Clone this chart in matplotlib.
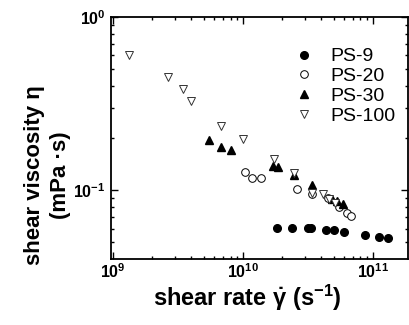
import numpy as np
import matplotlib
matplotlib.use('Agg')
import matplotlib.pyplot as plt
from matplotlib.ticker import LogLocator, NullFormatter, FuncFormatter

plt.rcParams['font.family'] = ['Liberation Sans', 'DejaVu Sans']
plt.rcParams['mathtext.fontset'] = 'custom'
plt.rcParams['mathtext.rm'] = 'Liberation Sans:bold'
plt.rcParams['mathtext.it'] = 'Liberation Sans:bold'
plt.rcParams['mathtext.bf'] = 'Liberation Sans:bold'
plt.rcParams['mathtext.default'] = 'rm'

######## data ########
ps9_rate = [1.83e10, 2.36e10, 3.17e10, 3.36e10, 4.32e10, 4.97e10, 5.98e10, 8.63e10, 1.11e11, 1.31e11]
ps9_visc = [0.0609, 0.0605, 0.0602, 0.0602, 0.0589, 0.0589, 0.0577, 0.0551, 0.0540, 0.0528]

ps20_rate = [1.04e10, 1.18e10, 1.37e10, 2.61e10, 3.40e10, 4.47e10, 5.46e10, 6.26e10, 6.73e10]
ps20_visc = [0.127, 0.118, 0.117, 0.102, 0.0948, 0.0899, 0.0796, 0.0735, 0.0711]

ps30_rate = [5.48e9, 6.75e9, 8.07e9, 1.71e10, 1.86e10, 2.48e10, 3.40e10, 4.86e10, 5.31e10, 5.87e10]
ps30_visc = [0.195, 0.177, 0.170, 0.139, 0.137, 0.122, 0.108, 0.0896, 0.0868, 0.0831]

ps100_rate = [1.31e9, 2.66e9, 3.43e9, 3.98e9, 6.75e9, 9.97e9, 1.73e10, 2.48e10, 3.40e10, 4.11e10, 4.55e10, 5.06e10]
ps100_visc = [0.605, 0.450, 0.384, 0.326, 0.234, 0.198, 0.152, 0.125, 0.0968, 0.0948, 0.0887, 0.0842]

labels = ['PS-9', 'PS-20', 'PS-30', 'PS-100']

fig = plt.figure(figsize=(4.09, 3.25), dpi=100)
ax = fig.add_axes([0.2714, 0.2046, 0.7262, 0.7431])

ms = 5.5
ax.plot(ps9_rate, ps9_visc, 'o', ms=ms, color='black', label=labels[0])
ax.plot(ps20_rate, ps20_visc, 'o', ms=ms, mfc='white', mec='black', mew=0.7, label=labels[1])
ax.plot(ps30_rate, ps30_visc, '^', ms=ms + 0.5, color='black', label=labels[2])
ax.plot(ps100_rate, ps100_visc, 'v', ms=ms + 0.5, mfc='white', mec='#333333', mew=0.7, label=labels[3])

ax.set_xscale('log')
ax.set_yscale('log')
ax.set_xlim(10**8.982, 10**11.27)
ax.set_ylim(0.0404, 1.0)

# bold powers of ten
pow_fmt = FuncFormatter(lambda v, p: r'$\mathbf{10^{%d}}$' % int(round(np.log10(v))))
ax.xaxis.set_major_locator(LogLocator(base=10, numticks=10))
ax.xaxis.set_minor_locator(LogLocator(base=10, subs=np.arange(2, 10), numticks=20))
ax.yaxis.set_minor_locator(LogLocator(base=10, subs=np.arange(2, 10), numticks=20))
ax.xaxis.set_major_formatter(pow_fmt)
ax.yaxis.set_major_formatter(pow_fmt)
ax.yaxis.set_minor_formatter(NullFormatter())
ax.xaxis.set_minor_formatter(NullFormatter())

ax.tick_params(which='both', direction='in', top=True, right=True, width=1.0)
ax.tick_params(which='major', length=5, labelsize=11.5)
ax.tick_params(axis='x', which='major', pad=3)
ax.tick_params(axis='y', which='major', pad=4)
ax.tick_params(which='minor', length=2.5)
for sp in ax.spines.values():
    sp.set_linewidth(1.3)

ax.set_xlabel(r'shear rate $\dot{\gamma}$ (s$^{-1}$)', fontsize=17, fontweight='bold')
ax.set_ylabel('shear viscosity \u03b7\n(mPa \u00b7s)', fontsize=16, fontweight='bold', linespacing=1.3)
ax.xaxis.set_label_coords(0.458, -0.10)
ax.yaxis.set_label_coords(-0.135, 0.345)

ax.legend(loc='upper right', frameon=False, fontsize=14, handletextpad=0.6,
          labelspacing=0.12, borderaxespad=0.0, handlelength=1.5,
          bbox_to_anchor=(0.985, 0.905))

fig.savefig('out.png', dpi=100)
